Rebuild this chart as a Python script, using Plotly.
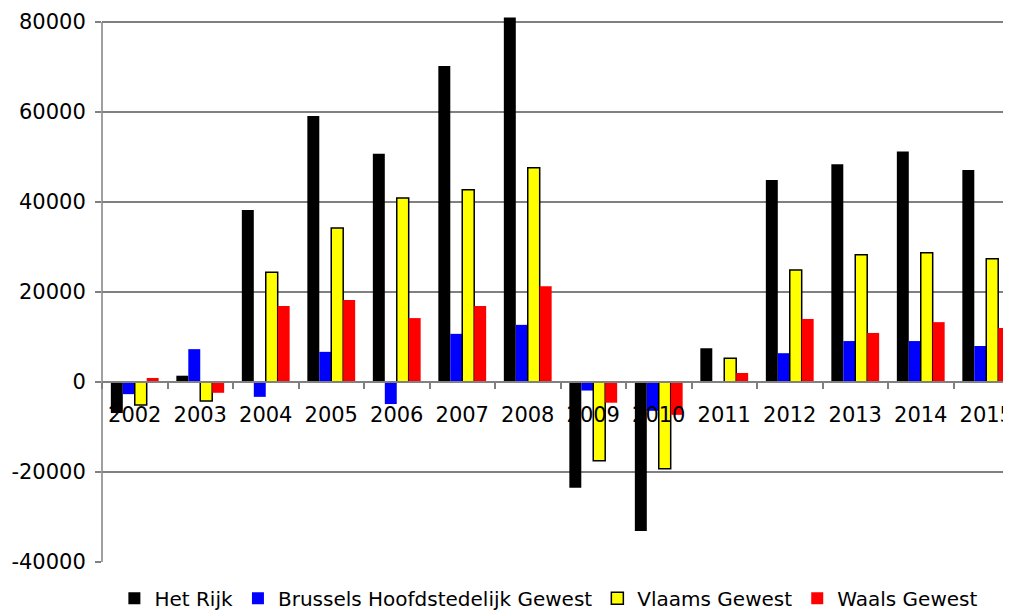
import plotly.graph_objects as go

years = ["2002", "2003", "2004", "2005", "2006", "2007", "2008",
         "2009", "2010", "2011", "2012", "2013", "2014", "2015"]
het_rijk = [-6900, 1400, 38200, 59100, 50700, 70200, 81000,
            -23500, -33100, 7500, 44900, 48400, 51200, 47100]
brussel = [-2700, 7300, -3300, 6700, -4900, 10700, 12700,
           -1900, -6400, 0, 6400, 9100, 9100, 8000]
vlaams = [-5100, -4200, 24400, 34200, 40900, 42700, 47600,
          -17500, -19300, 5300, 24900, 28300, 28700, 27400]
waals = [900, -2400, 16900, 18200, 14200, 16900, 21300,
         -4600, -7300, 2000, 14000, 10900, 13300, 12000]
y_ticks = [-40000, -20000, 0, 20000, 40000, 60000, 80000]
y_labels = [str(v) for v in y_ticks]

FONT = "DejaVu Sans"
GREY = "#808080"

fig = go.Figure()
fig.add_bar(x=years, y=het_rijk, name="Het Rijk", marker_color="#000000",
            marker_line_width=0)
fig.add_bar(x=years, y=brussel, name="Brussels Hoofdstedelijk Gewest",
            marker_color="#0000FF", marker_line_width=0)
fig.add_bar(x=years, y=vlaams, name="Vlaams Gewest", marker_color="#FFFF00",
            marker_line_color="#000000", marker_line_width=1.5)
fig.add_bar(x=years, y=waals, name="Waals Gewest", marker_color="#FF0000",
            marker_line_width=0)

# vertical axis line from the lowest to the highest tick only
fig.add_shape(type="line", xref="paper", yref="y", x0=0, x1=0,
              y0=y_ticks[0], y1=y_ticks[-1],
              line=dict(color=GREY, width=1.5), layer="above")

fig.update_layout(
    width=1011, height=611,
    margin=dict(l=94, r=0, t=9, b=57, autoexpand=False),
    paper_bgcolor="white", plot_bgcolor="white",
    barmode="group", bargap=0.27, bargroupgap=0,
    font=dict(family=FONT, size=21, color="black"),
    showlegend=True,
    legend=dict(orientation="h", xref="container", yref="container",
                x=0.535, xanchor="center", y=0.034, yanchor="middle",
                font=dict(family=FONT, size=20),
                itemwidth=30, tracegroupgap=0),
)
fig.update_xaxes(
    type="category", range=[-0.5, 13.5], automargin=False,
    anchor="free", position=180 / 545,
    showline=True, linecolor=GREY, linewidth=1.5,
    ticks="outside", ticklen=6, tickcolor=GREY, tickwidth=1.5,
    tickson="boundaries", showgrid=False, ticklabelstandoff=14,
    tickfont=dict(family=FONT, size=21, color="black"),
)
fig.update_yaxes(
    range=[-40000, 81111], tickvals=y_ticks, ticktext=y_labels,
    automargin=False,
    showline=False,
    ticks="outside", ticklen=6, tickcolor=GREY, tickwidth=1.5,
    showgrid=True, gridcolor=GREY, gridwidth=1.5,
    zeroline=False, ticklabelstandoff=5,
    tickfont=dict(family=FONT, size=21, color="black"),
)

fig.write_html("out.html")
